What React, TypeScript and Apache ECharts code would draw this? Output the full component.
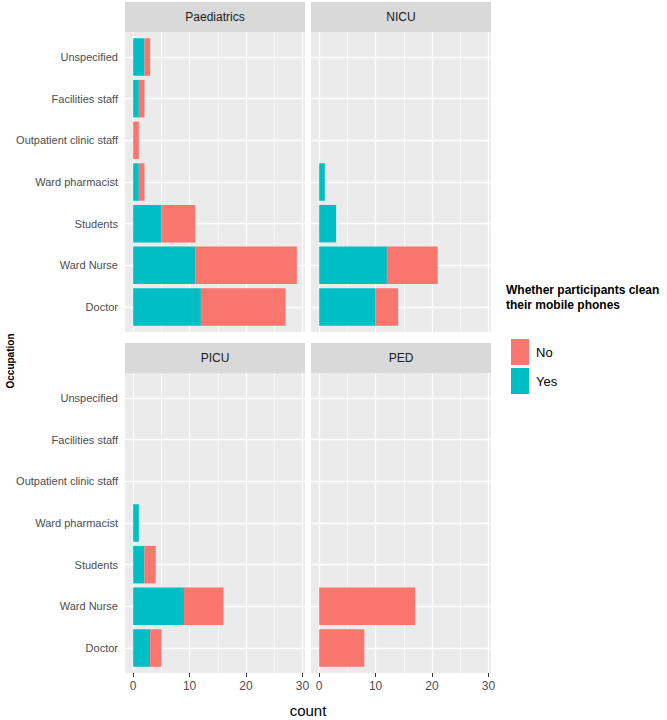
import React, { useEffect, useRef } from "react";
import * as echarts from "echarts";

// ---- data ----
const occupations = [
  "Unspecified",
  "Facilities staff",
  "Outpatient clinic staff",
  "Ward pharmacist",
  "Students",
  "Ward Nurse",
  "Doctor",
];
const panelNames = ["Paediatrics", "NICU", "PICU", "PED"];
const paediatricsYes = [2, 1, 0, 1, 5, 11, 12];
const paediatricsNo = [1, 1, 1, 1, 6, 18, 15];
const nicuYes = [0, 0, 0, 1, 3, 12, 10];
const nicuNo = [0, 0, 0, 0, 0, 9, 4];
const picuYes = [0, 0, 0, 1, 2, 9, 3];
const picuNo = [0, 0, 0, 0, 2, 7, 2];
const pedYes = [0, 0, 0, 0, 0, 0, 0];
const pedNo = [0, 0, 0, 0, 0, 17, 8];
const xTickValues = [0, 10, 20, 30];
const xMinorValues = [5, 15, 25];
const legendLabels = ["No", "Yes"];
const legendTitle = "Whether participants clean\ntheir mobile phones";

const yesData = [paediatricsYes, nicuYes, picuYes, pedYes];
const noData = [paediatricsNo, nicuNo, picuNo, pedNo];

const COLOR_NO = "#F8766D";
const COLOR_YES = "#00BFC4";
const SANS = "'Liberation Sans', Arial, sans-serif";

// layout (pixels)
const panelPos = [
  { x: 125, y: 32 },
  { x: 311, y: 32 },
  { x: 125, y: 373 },
  { x: 311, y: 373 },
];
const PW = 180;
const PH = 300;
const STRIP = 30;
const X_MIN = -1.45;
const X_MAX = 30.45;
const CAT_INSET = (PH * 0.1) / 7.2;

export default function App() {
  const ref = useRef<HTMLDivElement>(null);

  useEffect(() => {
    if (!ref.current) return;
    const chart = echarts.init(ref.current, undefined, { renderer: "svg" });

    const grid: any[] = [];
    const xAxis: any[] = [];
    const yAxis: any[] = [];
    const series: any[] = [];
    const graphic: any[] = [];

    panelPos.forEach((p, i) => {
      const isBottom = i >= 2;
      const isLeft = i % 2 === 0;
      grid.push({
        left: p.x,
        top: p.y,
        width: PW,
        height: PH,
        show: true,
        backgroundColor: "#EBEBEB",
        borderWidth: 0,
        outerBoundsMode: "none",
      });
      const bgIdx = grid.length - 1;
      grid.push({
        left: p.x,
        top: p.y + CAT_INSET,
        width: PW,
        height: PH - 2 * CAT_INSET,
        show: false,
        outerBoundsMode: "none",
      });
      const mainIdx = grid.length - 1;

      xAxis.push({
        type: "value",
        gridIndex: bgIdx,
        min: X_MIN,
        max: X_MAX,
        axisLine: { show: false },
        splitLine: { show: false },
        axisTick: {
          show: isBottom,
          customValues: xTickValues,
          length: 4,
          lineStyle: { color: "#333333", width: 1 },
        },
        axisLabel: {
          show: isBottom,
          customValues: xTickValues,
          color: "#4D4D4D",
          fontSize: 12,
          fontFamily: SANS,
          margin: 7,
        },
      });
      yAxis.push({
        type: "value",
        gridIndex: bgIdx,
        min: 0,
        max: 1,
        show: false,
      });
      xAxis.push({
        type: "value",
        gridIndex: mainIdx,
        min: X_MIN,
        max: X_MAX,
        show: false,
      });
      yAxis.push({
        type: "category",
        gridIndex: mainIdx,
        data: occupations,
        inverse: true,
        axisLine: { show: false },
        splitLine: { show: false },
        axisTick: {
          show: isLeft,
          alignWithLabel: true,
          length: 4,
          lineStyle: { color: "#333333", width: 1 },
        },
        axisLabel: {
          show: isLeft,
          color: "#4D4D4D",
          fontSize: 11,
          fontFamily: SANS,
          margin: 7,
        },
      });
      const bgX = xAxis.length - 2;
      const bgY = yAxis.length - 2;
      const mX = xAxis.length - 1;
      const mY = yAxis.length - 1;

      series.push({
        type: "line",
        xAxisIndex: bgX,
        yAxisIndex: bgY,
        data: [],
        silent: true,
        z: 1,
        markLine: {
          silent: true,
          symbol: "none",
          label: { show: false },
          animation: false,
          data: [
            ...xMinorValues.map((v) => ({ xAxis: v, lineStyle: { color: "#FFFFFF", width: 0.6, type: "solid" } })),
            ...xTickValues.map((v) => ({ xAxis: v, lineStyle: { color: "#FFFFFF", width: 1.3, type: "solid" } })),
          ],
        },
      });
      series.push({
        type: "line",
        xAxisIndex: mX,
        yAxisIndex: mY,
        data: [],
        silent: true,
        z: 1,
        markLine: {
          silent: true,
          symbol: "none",
          label: { show: false },
          animation: false,
          data: occupations.map((_, k) => ({
            yAxis: k,
            lineStyle: { color: "#FFFFFF", width: 1.3, type: "solid" },
          })),
        },
      });
      series.push({
        name: "Yes",
        type: "bar",
        stack: "panel" + i,
        xAxisIndex: mX,
        yAxisIndex: mY,
        data: yesData[i],
        barCategoryGap: "10%",
        itemStyle: { color: COLOR_YES },
        z: 10,
      });
      series.push({
        name: "No",
        type: "bar",
        stack: "panel" + i,
        xAxisIndex: mX,
        yAxisIndex: mY,
        data: noData[i],
        barCategoryGap: "10%",
        itemStyle: { color: COLOR_NO },
        z: 10,
      });

      graphic.push({
        type: "rect",
        left: p.x,
        top: p.y - STRIP,
        shape: { width: PW, height: STRIP },
        style: { fill: "#D9D9D9" },
        silent: true,
      });
      graphic.push({
        type: "text",
        x: p.x + PW / 2,
        y: p.y - STRIP / 2,
        style: {
          text: panelNames[i],
          fill: "#1A1A1A",
          fontSize: 12,
          fontFamily: SANS,
          align: "center",
          verticalAlign: "middle",
        },
        silent: true,
      });
    });

    graphic.push({
      type: "text",
      x: 10,
      y: 361,
      rotation: Math.PI / 2,
      style: {
        text: "Occupation",
        fill: "#000000",
        fontSize: 10,
        fontWeight: "bold",
        fontFamily: SANS,
        align: "center",
        verticalAlign: "middle",
      },
      silent: true,
    });
    graphic.push({
      type: "text",
      x: 308,
      y: 710,
      style: {
        text: "count",
        fill: "#000000",
        fontSize: 15,
        fontFamily: SANS,
        align: "center",
        verticalAlign: "middle",
      },
      silent: true,
    });

    chart.setOption({
      animation: false,
      backgroundColor: "#FFFFFF",
      title: {
        text: legendTitle,
        left: 506,
        top: 282,
        padding: 0,
        textStyle: {
          fontSize: 12,
          fontWeight: "bold",
          fontFamily: SANS,
          color: "#000000",
          lineHeight: 15,
        },
      },
      legend: {
        data: legendLabels,
        orient: "vertical",
        left: 511,
        top: 339,
        padding: 0,
        itemWidth: 18,
        itemHeight: 26,
        itemGap: 3,
        icon: "rect",
        selectedMode: false,
        textStyle: { fontSize: 13, fontFamily: SANS, color: "#000000", padding: [0, 0, 0, 2] },
      },
      grid,
      xAxis,
      yAxis,
      series,
      graphic,
    });

    return () => chart.dispose();
  }, []);

  return (
    <div
      ref={ref}
      style={{ position: "fixed", left: 0, top: 0, width: 667, height: 720 }}
    />
  );
}
